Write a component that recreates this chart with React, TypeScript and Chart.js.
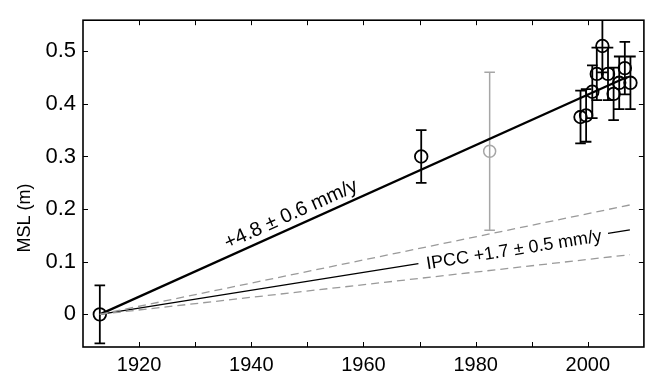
import React, { useEffect, useRef } from "react";
import { Chart, registerables } from "chart.js";

Chart.register(...registerables);

// Observations (year, mean sea level in m, half-width of error bar)
const obsYears = [1913, 1970.3, 1998.7, 1999.7, 2000.8, 2001.6, 2002.6, 2003.6, 2004.6, 2005.6, 2006.6, 2007.6];
const obsMSL = [0, 0.3, 0.375, 0.378, 0.423, 0.457, 0.51, 0.457, 0.419, 0.44, 0.468, 0.44];
const obsErr = [0.055, 0.05, 0.05, 0.05, 0.05, 0.05, 0.05, 0.05, 0.05, 0.05, 0.05, 0.05];

// Grey (discarded) observation
const greyYears = [1982.5];
const greyMSL = [0.31];
const greyErr = [0.15];

// Fitted trend +4.8 mm/y
const trendYears = [1913, 2007];
const trendMSL = [0, 0.451];

// IPCC +1.7 mm/y (gap for label) and its +/-0.5 envelope
const ipccYears = [1913, 1969.8, 1986, 2003.6, 2007.5];
const ipccMSL = [0, 0.0966, null, 0.1538, 0.1607];
const ipccHiYears = [1913, 2007.5];
const ipccHiMSL = [0, 0.2079];
const ipccLoYears = [1913, 2007.5];
const ipccLoMSL = [0, 0.1134];

const xTicks = [1920, 1930, 1940, 1950, 1960, 1970, 1980, 1990, 2000];
const xLabelTicks = [1920, 1940, 1960, 1980, 2000];
const yTicks = [0, 0.1, 0.2, 0.3, 0.4, 0.5];

const trendLabel = "+4.8 \u00b1 0.6 mm/y";
const ipccLabel = "IPCC +1.7 \u00b1 0.5 mm/y";
const yTitle = "MSL (m)";

const FONT = "'Liberation Sans', Arial, Helvetica, sans-serif";

const pts = (xs: number[], ys: (number | null)[]) => xs.map((x, i) => ({ x, y: ys[i] }));

const decorPlugin = {
  id: "decor",
  beforeDatasetsDraw(chart: any) {
    const { ctx, chartArea: a, scales } = chart;
    const xs = scales.x;
    const ys = scales.y;
    ctx.save();
    ctx.beginPath();
    ctx.rect(a.left, a.top, a.right - a.left, a.bottom - a.top);
    ctx.clip();
    const drawErr = (xv: number[], yv: number[], ev: number[], color: string, w: number) => {
      ctx.strokeStyle = color;
      ctx.lineWidth = w;
      for (let i = 0; i < xv.length; i++) {
        const px = xs.getPixelForValue(xv[i]);
        const pt = ys.getPixelForValue(yv[i] + ev[i]);
        const pb = ys.getPixelForValue(yv[i] - ev[i]);
        ctx.beginPath();
        ctx.moveTo(px, pt);
        ctx.lineTo(px, pb);
        ctx.moveTo(px - 5.3, pt);
        ctx.lineTo(px + 5.3, pt);
        ctx.moveTo(px - 5.3, pb);
        ctx.lineTo(px + 5.3, pb);
        ctx.stroke();
      }
    };
    drawErr(greyYears, greyMSL, greyErr, "#a6a6a6", 1.5);
    drawErr(obsYears, obsMSL, obsErr, "#000", 1.8);
    ctx.restore();
  },
  afterDatasetsDraw(chart: any) {
    const { ctx, chartArea: a, scales } = chart;
    const xs = scales.x;
    const ys = scales.y;
    ctx.save();
    // frame
    ctx.strokeStyle = "#000";
    ctx.lineWidth = 1.6;
    ctx.strokeRect(a.left, a.top, a.right - a.left, a.bottom - a.top);
    // inward ticks
    ctx.lineWidth = 1;
    const tl = 5;
    ctx.beginPath();
    for (const v of xTicks) {
      const px = Math.round(xs.getPixelForValue(v)) + 0.5;
      ctx.moveTo(px, a.bottom);
      ctx.lineTo(px, a.bottom - tl);
      ctx.moveTo(px, a.top);
      ctx.lineTo(px, a.top + tl);
    }
    for (const v of yTicks) {
      const py = Math.round(ys.getPixelForValue(v)) + 0.5;
      ctx.moveTo(a.left, py);
      ctx.lineTo(a.left + tl, py);
      ctx.moveTo(a.right, py);
      ctx.lineTo(a.right - tl, py);
    }
    ctx.stroke();

    // annotations
    ctx.fillStyle = "#000";
    ctx.textAlign = "center";
    ctx.textBaseline = "middle";
    const label = (x0: number, y0: number, x1: number, y1: number, at: number, off: number, text: string, size: number) => {
      const p0x = xs.getPixelForValue(x0), p0y = ys.getPixelForValue(y0);
      const p1x = xs.getPixelForValue(x1), p1y = ys.getPixelForValue(y1);
      const ang = Math.atan2(p1y - p0y, p1x - p0x);
      const t = (at - x0) / (x1 - x0);
      const ax = p0x + t * (p1x - p0x);
      const ay = p0y + t * (p1y - p0y);
      ctx.save();
      ctx.font = `${size}px ${FONT}`;
      ctx.translate(ax, ay);
      ctx.rotate(ang);
      ctx.fillText(text, 0, off);
      ctx.restore();
    };
    label(trendYears[0], trendMSL[0], trendYears[1], trendMSL[1], 1948, -12.5, trendLabel, 20);
    label(ipccYears[0], ipccMSL[0] as number, ipccYears[4], ipccMSL[4] as number, 1986.8, 2, ipccLabel, 18);

    // y title
    ctx.save();
    ctx.font = `18px ${FONT}`;
    ctx.translate(25, a.top + (a.bottom - a.top) * 0.605);
    ctx.rotate(-Math.PI / 2);
    ctx.fillText(yTitle, 0, 0);
    ctx.restore();
    ctx.restore();
  },
};

export default function App() {
  const ref = useRef<HTMLCanvasElement | null>(null);
  useEffect(() => {
    if (!ref.current) return;
    const chart = new Chart(ref.current, {
      type: "scatter",
      data: {
        datasets: [
          {
            data: pts(ipccHiYears, ipccHiMSL),
            showLine: true,
            borderColor: "#9a9a9a",
            borderWidth: 1.3,
            borderDash: [8, 5],
            pointRadius: 0,
          },
          {
            data: pts(ipccLoYears, ipccLoMSL),
            showLine: true,
            borderColor: "#9a9a9a",
            borderWidth: 1.3,
            borderDash: [8, 5],
            pointRadius: 0,
          },
          {
            data: pts(ipccYears, ipccMSL),
            showLine: true,
            spanGaps: false,
            borderColor: "#000",
            borderWidth: 1.3,
            pointRadius: 0,
          },
          {
            data: pts(trendYears, trendMSL),
            showLine: true,
            borderColor: "#000",
            borderWidth: 2.2,
            pointRadius: 0,
          },
          {
            data: pts(greyYears, greyMSL),
            pointRadius: 6,
            pointStyle: "circle",
            borderColor: "#a6a6a6",
            backgroundColor: "rgba(0,0,0,0)",
            borderWidth: 1.5,
          },
          {
            data: pts(obsYears, obsMSL),
            pointRadius: 6.3,
            pointStyle: "circle",
            borderColor: "#000",
            backgroundColor: "rgba(0,0,0,0)",
            borderWidth: 1.8,
          },
        ] as any,
      },
      options: {
        animation: false,
        responsive: false,
        events: [],
        layout: { padding: { top: 12, right: 4, left: 0, bottom: 0 } },
        plugins: { legend: { display: false }, tooltip: { enabled: false } },
        scales: {
          x: {
            type: "linear",
            min: 1910,
            max: 2010,
            grid: { display: false, drawTicks: false },
            border: { display: false },
            afterBuildTicks: (s: any) => {
              s.ticks = xLabelTicks.map((v) => ({ value: v }));
            },
            afterFit: (s: any) => {
              s.height = 28;
            },
            ticks: {
              padding: 6,
              color: "#000",
              font: { family: FONT, size: 20 },
              maxRotation: 0,
              autoSkip: false,
              callback: (v: any) => String(v),
            },
          },
          y: {
            type: "linear",
            min: -0.062,
            max: 0.559,
            grid: { display: false, drawTicks: false },
            border: { display: false },
            afterBuildTicks: (s: any) => {
              s.ticks = yTicks.map((v) => ({ value: v }));
            },
            afterFit: (s: any) => {
              s.width = 83;
            },
            ticks: {
              padding: 7,
              color: "#000",
              font: { family: FONT, size: 22 },
              autoSkip: false,
              callback: (v: any) => String(Math.round(Number(v) * 10) / 10),
            },
          },
        },
      },
      plugins: [decorPlugin],
    });
    return () => chart.destroy();
  }, []);
  return (
    <div style={{ position: "absolute", left: 0, top: 0, width: 652, height: 375, background: "#fff" }}>
      <canvas ref={ref} width={652} height={375} />
    </div>
  );
}
